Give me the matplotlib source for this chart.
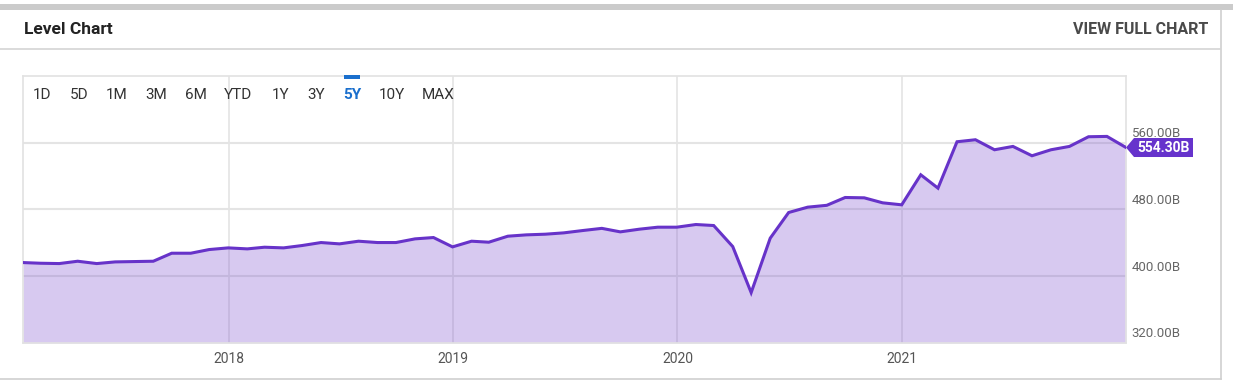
import pandas as pd
import matplotlib.pyplot as plt
import matplotlib.dates as mdates
from matplotlib.patches import Polygon, Rectangle
from matplotlib.lines import Line2D

# monthly level values (billions), end of month Jan 2017 .. Dec 2021
values = [
    416.4, 415.6, 415.2, 418.0, 415.2, 417.2, 417.6, 418.0, 427.6, 427.6, 432.0,
    434.0, 432.8, 434.8, 434.0, 436.8, 440.4, 438.8, 442.0, 440.4, 440.4, 444.8, 446.4,
    435.2, 442.0, 440.8, 448.0, 449.6, 450.4, 452.0, 454.8, 457.4, 453.2, 456.4, 458.8,
    458.8, 462.0, 460.8, 435.6, 380.4, 445.6, 476.4, 482.8, 485.0, 494.4, 494.0, 488.0,
    485.6, 521.6, 505.6, 561.2, 563.6, 551.6, 555.6, 544.4, 551.6, 555.6, 567.2, 567.6,
    554.3,
]
dates = pd.date_range("2017-02-01", periods=len(values), freq="MS") - pd.Timedelta(days=1)

year_ticks = ["2018-01-01", "2019-01-01", "2020-01-01", "2021-01-01"]
year_labels = ["2018", "2019", "2020", "2021"]
y_ticks = [320, 400, 480, 560]
y_labels = ["320.00B", "400.00B", "480.00B", "560.00B"]
ranges = ["1D", "5D", "1M", "3M", "6M", "YTD", "1Y", "3Y", "5Y", "10Y", "MAX"]
range_x = [42, 79, 117, 156, 196, 238, 281, 316, 352, 392, 438]
last_label = "554.30B"

W, H = 1233, 391
plt.rcParams["font.family"] = ["Roboto", "DejaVu Sans"]

LINE = "#6733c9"
GRID = "#e4e4e4"


def fx(px):
    return px / W


def fy(py):
    return 1 - py / H


fig = plt.figure(figsize=(W / 100, H / 100), dpi=100)
fig.patch.set_facecolor("white")

# card frame
fig.add_artist(Rectangle((fx(0), fy(10)), fx(1233), 6 / H, transform=fig.transFigure,
                         color="#cbcbcb", lw=0))
fig.add_artist(Line2D([fx(1220.5), fx(1220.5)], [fy(10), fy(379)], color="#cfcfcf", lw=1.2))
fig.add_artist(Line2D([fx(0), fx(1220.5)], [fy(379), fy(379)], color="#cfcfcf", lw=1.2))
fig.add_artist(Line2D([fx(0), fx(1220)], [fy(49), fy(49)], color="#d4d4d4", lw=1.2))

fig.text(fx(24), fy(29), "Level Chart", fontsize=12.5, fontweight="bold",
         color="#222222", va="center", ha="left")
fig.text(fx(1208), fy(29), "VIEW FULL CHART", fontsize=11.5, fontweight="bold",
         color="#4a4a4a", va="center", ha="right")

# plot area
x0, x1, y0, y1 = 23, 1126, 76, 343
ax = fig.add_axes([fx(x0), fy(y1), (x1 - x0) / W, (y1 - y0) / H])
ax.set_xlim(dates[0], dates[-1])
ax.set_ylim(320, 640)

for d in year_ticks:
    ax.axvline(pd.Timestamp(d), color=GRID, lw=1.2, zorder=1)
for v in y_ticks[1:]:
    ax.axhline(v, color=GRID, lw=1.5, zorder=1)

ax.fill_between(dates, values, 320, color="#7c4fd0", alpha=0.3, lw=0, zorder=2)
ax.plot(dates, values, color=LINE, lw=2.2, zorder=3, solid_joinstyle="miter")

for s in ax.spines.values():
    s.set_color("#e2e2e2")
    s.set_linewidth(1.2)
ax.set_xticks([pd.Timestamp(d) for d in year_ticks])
ax.set_xticklabels(year_labels)
ax.tick_params(axis="x", length=0, pad=6.5, labelsize=10, labelcolor="#555555")
ax.set_yticks([])

# right axis labels sit a little above their grid lines
for v, lab in zip(y_ticks, y_labels):
    ax.annotate(lab, xy=(1, v), xycoords=("axes fraction", "data"),
                xytext=(4, 6.5), textcoords="offset points", fontsize=9.5,
                color="#666666", va="center", ha="left")

# range buttons
for lab, px in zip(ranges, range_x):
    sel = lab == "5Y"
    fig.text(fx(px), fy(95), lab, fontsize=11, ha="center", va="center",
             color="#1a6fcd" if sel else "#333333",
             fontweight="bold" if sel else "normal")
fig.add_artist(Rectangle((fx(344), fy(78.5)), 16 / W, 3 / H,
                         transform=fig.transFigure, color="#1a6fcd", lw=0))

# last value badge
fig.canvas.draw()
tip = ax.transData.transform((mdates.date2num(dates[-1]), values[-1]))
tx, ty = tip[0], H - tip[1]
badge = [(tx, ty), (tx + 8, ty - 9.5), (tx + 67, ty - 9.5),
         (tx + 67, ty + 9.5), (tx + 8, ty + 9.5)]
fig.add_artist(Polygon([(fx(a), fy(b)) for a, b in badge], closed=True,
                       transform=fig.transFigure, color="#6633cc", lw=0))
fig.text(fx(tx + 37.5), fy(ty), last_label, fontsize=10, fontweight="bold",
         color="white", ha="center", va="center")

fig.savefig("out.png", dpi=100, facecolor="white")
